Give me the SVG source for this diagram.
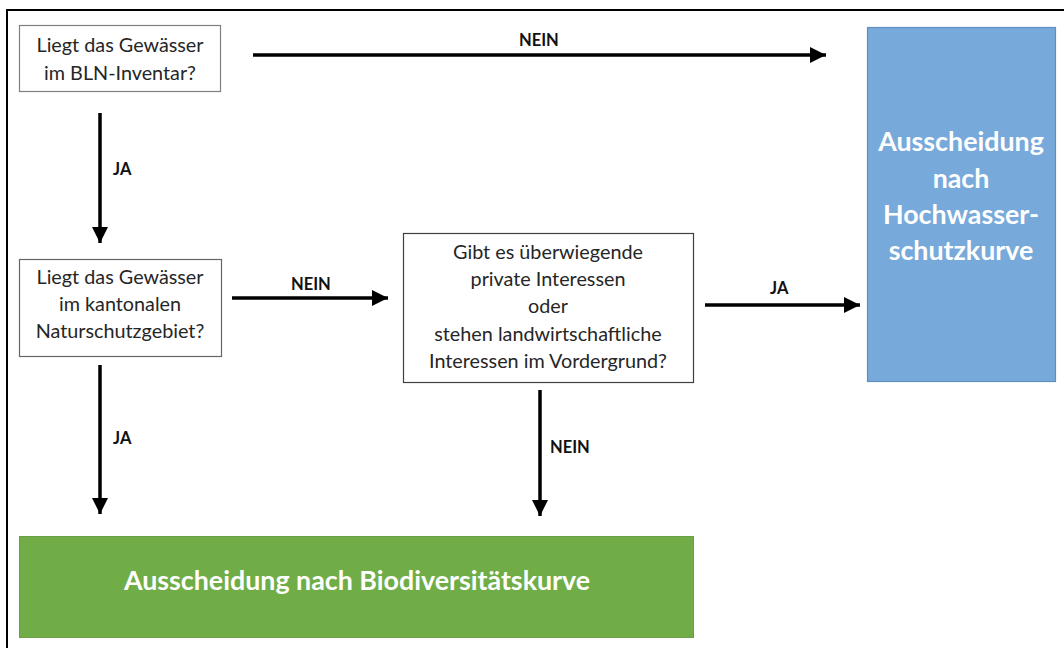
<svg xmlns="http://www.w3.org/2000/svg" width="1064" height="648" viewBox="0 0 1064 648">
<defs>
<style>
.q{fill:#ffffff;stroke:#7f7f7f;stroke-width:1.2}
.qt{font-family:Lato,"Open Sans","Liberation Sans",sans-serif;font-size:19.8px;fill:#262626;text-anchor:middle}
.lbl{font-family:Lato,"Open Sans","Liberation Sans",sans-serif;font-size:16.5px;font-weight:bold;fill:#111111}
.big{font-family:Lato,"Open Sans","Liberation Sans",sans-serif;font-weight:bold;fill:#ffffff;text-anchor:middle;font-size:26.8px}
.c{stroke:#000000;stroke-width:3.5;fill:none}
</style>
<marker id="ah" viewBox="0 0 10 10" refX="10" refY="5" markerWidth="4.6" markerHeight="4.6" markerUnits="strokeWidth" orient="auto">
<path d="M0,0 L10,5 L0,10 Z" fill="#000000"/>
</marker>
</defs>
<rect width="1064" height="648" fill="#ffffff"/>
<path d="M7,648 L7,10 L1064,10" fill="none" stroke="#000000" stroke-width="2"/>

<g id="n1">
<rect class="q" x="19.5" y="25.5" width="201" height="66"/>
<text class="qt" x="120" y="52">Liegt das Gewässer</text>
<text class="qt" x="120" y="80">im BLN-Inventar?</text>
</g>
<g id="n2">
<rect class="q" x="19.5" y="259.5" width="202" height="97" style="stroke:#666666"/>
<text class="qt" x="120" y="284">Liegt das Gewässer</text>
<text class="qt" x="120" y="311">im kantonalen</text>
<text class="qt" x="120" y="338">Naturschutzgebiet?</text>
</g>
<g id="n3">
<rect class="q" x="403.5" y="233.5" width="290" height="149" style="stroke:#404040"/>
<text class="qt" x="548" y="259">Gibt es überwiegende</text>
<text class="qt" x="548" y="286">private Interessen</text>
<text class="qt" x="548" y="313">oder</text>
<text class="qt" x="548" y="341">stehen landwirtschaftliche</text>
<text class="qt" x="548" y="368">Interessen im Vordergrund?</text>
</g>
<g id="hw">
<rect x="867.5" y="27.5" width="188" height="354" fill="#77a9da" stroke="#5f8fc2" stroke-width="1.2"/>
<text class="big" x="961" y="151">Ausscheidung</text>
<text class="big" x="961" y="188">nach</text>
<text class="big" x="961" y="224">Hochwasser-</text>
<text class="big" x="961" y="260">schutzkurve</text>
</g>
<g id="bio">
<rect x="19.5" y="536.5" width="674" height="101" fill="#70ad47" stroke="#6a9f45" stroke-width="1"/>
<text class="big" x="357" y="590">Ausscheidung nach Biodiversitätskurve</text>
</g>

<g id="connectors">
<line class="c" x1="253" y1="55" x2="826" y2="55" marker-end="url(#ah)"/>
<line class="c" x1="100" y1="113" x2="100" y2="243" marker-end="url(#ah)"/>
<line class="c" x1="232" y1="298" x2="388" y2="298" marker-end="url(#ah)"/>
<line class="c" x1="705" y1="305" x2="860" y2="305" marker-end="url(#ah)"/>
<line class="c" x1="100" y1="365" x2="100" y2="514" marker-end="url(#ah)"/>
<line class="c" x1="540" y1="390" x2="540" y2="516" marker-end="url(#ah)"/>
<text class="lbl" x="519" y="46">NEIN</text>
<text class="lbl" x="113" y="175">JA</text>
<text class="lbl" x="291" y="290">NEIN</text>
<text class="lbl" x="770" y="294">JA</text>
<text class="lbl" x="113" y="444">JA</text>
<text class="lbl" x="550" y="453">NEIN</text>
</g>
</svg>
